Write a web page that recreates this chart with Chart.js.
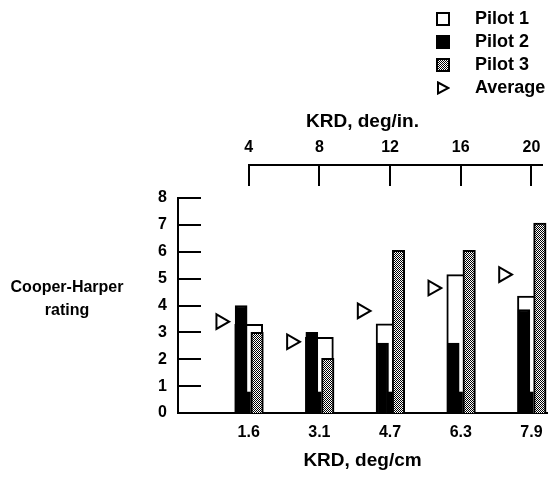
<!DOCTYPE html>
<html><head><meta charset="utf-8">
<script src="https://cdn.jsdelivr.net/npm/chart.js@4.4.1/dist/chart.umd.min.js"></script>
<style>
html,body{margin:0;padding:0;background:#fff;}
#wrap{position:relative;width:554px;height:477px;overflow:hidden;background:#fff;}
#c{position:absolute;left:0;top:0;}
#legend{position:absolute;left:0;top:0;font:bold 18px 'Liberation Sans',Arial,sans-serif;color:#000;}
.row{position:absolute;height:23px;line-height:23px;white-space:nowrap;}
.row canvas{position:absolute;left:0;top:5px;}
.row span{position:absolute;left:38px;top:0;}
</style></head>
<body><div id="wrap"><canvas id="c" width="554" height="477"></canvas><div id="legend"></div></div>
<script>
// ---- data ----
const categories    = ['1.6', '3.1', '4.7', '6.3', '7.9'];      // KRD, deg/cm
const topTickLabels = ['4', '8', '12', '16', '20'];              // KRD, deg/in.
const yTicks        = [0, 1, 2, 3, 4, 5, 6, 7, 8];
const pilot1        = [3.3, 2.82, 3.32, 5.15, 4.35];
const pilot2        = [4.0, 3.0, 2.6, 2.6, 3.85];
const pilot3        = [3.0, 2.03, 6.05, 6.05, 7.07];
const pilot2Low     = [0.78, 0.78, 0.78, 0.78, 0.78];
const average       = [3.4, 2.65, 3.8, 4.65, 5.15];
const yTitle        = ['Cooper-Harper', 'rating'];

// ---- styles ----
const FONT = "'Liberation Sans', Arial, sans-serif";
Chart.defaults.font.family = FONT;
Chart.defaults.font.weight = 'bold';
Chart.defaults.color = '#000';

function makePattern(ctx) {
  const c = document.createElement('canvas'); c.width = 2; c.height = 2;
  const g = c.getContext('2d');
  g.fillStyle = '#fff'; g.fillRect(0, 0, 2, 2);
  g.fillStyle = '#000'; g.fillRect(0, 0, 1, 1); g.fillRect(1, 1, 1, 1);
  return ctx.createPattern(c, 'repeat');
}
const mainCtx = document.getElementById('c').getContext('2d');
const dots = makePattern(mainCtx);

const X_MIN = 0, X_MAX = 5.22;
const idxTicks = s => { s.ticks = categories.map((_, i) => ({ value: i + 1 })); };
function shiftedAxis(s) {
  return { type: 'linear', display: false, offset: false, bounds: 'data',
           min: X_MIN - s, max: X_MAX - s, afterBuildTicks: idxTicks };
}
const toXY = arr => arr.map((v, i) => ({ x: i + 1, y: v }));

const barBase = { type: 'bar', grouped: false, barPercentage: 1, categoryPercentage: 1,
                  borderColor: '#000', borderWidth: 2, yAxisID: 'y' };

const datasets = [
  { ...barBase, label: 'Pilot 1', data: toXY(pilot1), backgroundColor: '#fff',
    maxBarThickness: 28, xAxisID: 'x', order: 4 },
  { ...barBase, label: 'Pilot 2', data: toXY(pilot2), backgroundColor: '#000',
    maxBarThickness: 12, xAxisID: 'xP2', order: 3 },
  { ...barBase, label: '', data: toXY(pilot2Low), backgroundColor: '#000', borderWidth: 0,
    maxBarThickness: 3.5, xAxisID: 'x', order: 2 },
  { ...barBase, label: 'Pilot 3', data: toXY(pilot3), backgroundColor: dots,
    maxBarThickness: 12.5, xAxisID: 'xP3', order: 1 },
  { type: 'line', label: 'Average', data: toXY(average), showLine: false,
    pointStyle: 'triangle', pointRotation: 90, pointRadius: 8.5,
    pointBorderWidth: 2, pointBorderColor: '#000', pointBackgroundColor: '#fff',
    xAxisID: 'xAvg', yAxisID: 'y', order: 0 }
];

const decor = {
  id: 'decor',
  afterDraw(chart) {
    const { ctx, chartArea, scales } = chart;
    const y = scales.y, xt = scales.x2;
    ctx.save();
    ctx.strokeStyle = '#000'; ctx.lineWidth = 2; ctx.lineCap = 'butt';
    yTicks.forEach(v => {
      const py = Math.round(y.getPixelForValue(v));
      ctx.beginPath(); ctx.moveTo(chartArea.left, py); ctx.lineTo(chartArea.left + 23, py); ctx.stroke();
    });
    const ly = Math.round(chartArea.top - 33);
    const first = Math.round(xt.getPixelForValue(1));
    ctx.beginPath(); ctx.moveTo(first - 1, ly); ctx.lineTo(chartArea.right - 4, ly); ctx.stroke();
    topTickLabels.forEach((_, i) => {
      const px = Math.round(xt.getPixelForValue(i + 1));
      ctx.beginPath(); ctx.moveTo(px, ly); ctx.lineTo(px, ly + 21); ctx.stroke();
    });
    ctx.fillStyle = '#000';
    ctx.font = 'bold 16px ' + FONT;
    ctx.textAlign = 'center'; ctx.textBaseline = 'middle';
    yTitle.forEach((t, i) => ctx.fillText(t, 67, 288 + i * 23));
    ctx.restore();
  }
};

const fitX = h => s => { s.height = h; s.paddingLeft = 0; s.paddingRight = 0; };

const chart = new Chart(mainCtx, {
  data: { datasets },
  options: {
    responsive: false, animation: false, events: [],
    layout: { autoPadding: false, padding: { left: 0, right: 7, top: 0, bottom: 0 } },
    plugins: { legend: { display: false }, tooltip: { enabled: false } },
    scales: {
      x: { type: 'linear', position: 'bottom', min: X_MIN, max: X_MAX, offset: false, bounds: 'data',
           afterBuildTicks: idxTicks, afterFit: fitX(64),
           grid: { display: true, drawOnChartArea: false, drawTicks: true, tickLength: 10,
                   color: 'rgba(0,0,0,0)', offset: false },
           border: { display: true, color: '#000', width: 2 },
           ticks: { callback: v => categories[v - 1], padding: 0, autoSkip: false, maxRotation: 0,
                    font: { size: 16, weight: 'bold' }, color: '#000' },
           title: { display: true, text: 'KRD, deg/cm', color: '#000',
                    font: { size: 19, weight: 'bold' }, padding: { top: 0, bottom: 5 } } },
      x2: { type: 'linear', position: 'top', min: X_MIN, max: X_MAX, offset: false, bounds: 'data',
            afterBuildTicks: idxTicks, afterFit: fitX(198),
            grid: { display: true, drawOnChartArea: false, drawTicks: true, tickLength: 41,
                    color: 'rgba(0,0,0,0)', offset: false },
            border: { display: false },
            ticks: { callback: v => topTickLabels[v - 1], padding: 0, autoSkip: false, maxRotation: 0,
                     font: { size: 16, weight: 'bold' }, color: '#000' },
            title: { display: true, text: 'KRD, deg/in.', color: '#000',
                     font: { size: 19, weight: 'bold' }, padding: { top: 110, bottom: 0 } } },
      y: { type: 'linear', position: 'left', min: 0, max: 8,
           afterBuildTicks: s => { s.ticks = yTicks.map(v => ({ value: v })); },
           afterFit: s => { s.width = 178; },
           grid: { display: false, drawTicks: false },
           border: { display: true, color: '#000', width: 2 },
           ticks: { padding: 11, font: { size: 16, weight: 'bold' }, color: '#000' } },
      xP2: shiftedAxis(-0.107),
      xP3: shiftedAxis(0.119),
      xAvg: shiftedAxis(-0.396)
    }
  },
  plugins: [decor]
});

// ---- HTML legend built from the datasets ----
function glyph(kind) {
  const c = document.createElement('canvas'); c.width = 14; c.height = 14;
  const g = c.getContext('2d');
  g.strokeStyle = '#000'; g.lineWidth = 2;
  if (kind === 'triangle') {
    g.fillStyle = '#fff';
    g.beginPath(); g.moveTo(2, 1.5); g.lineTo(12.5, 7); g.lineTo(2, 12.5); g.closePath();
    g.fill(); g.stroke();
  } else {
    g.fillStyle = kind === 'dots' ? makePattern(g) : kind;
    g.fillRect(1, 1, 12, 12); g.strokeRect(1, 1, 12, 12);
  }
  return c;
}
const legendEntries = [
  { text: datasets[0].label, kind: '#fff' },
  { text: datasets[1].label, kind: '#000' },
  { text: datasets[3].label, kind: 'dots' },
  { text: datasets[4].label, kind: 'triangle' }
];
const leg = document.getElementById('legend');
legendEntries.forEach((e, i) => {
  const row = document.createElement('div'); row.className = 'row';
  row.style.left = '436px'; row.style.top = (6.5 + i * 23) + 'px';
  row.appendChild(glyph(e.kind));
  const sp = document.createElement('span'); sp.textContent = e.text; sp.style.left = '39px';
  row.appendChild(sp);
  leg.appendChild(row);
});
</script>
</body></html>
